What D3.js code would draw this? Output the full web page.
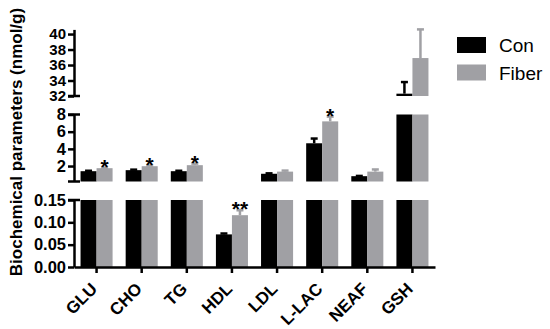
<!DOCTYPE html>
<html lang="en">
<head>
    <meta charset="UTF-8">
    <title>Biochemical parameters</title>
    <script src="https://d3js.org/d3.v7.min.js"></script>
    <style>
        body { margin: 0; background: #fff; }
        text { font-family: Arial, "Liberation Sans", sans-serif; }
    </style>
</head>
<body>
    <div id="chart"></div>
    <script>
        // data
        var categories = ["GLU", "CHO", "TG", "HDL", "LDL", "L-LAC", "NEAF", "GSH"];
        var groups = ["Con", "Fiber"];
        var conValues = [1.40, 1.52, 1.40, 0.073, 1.10, 4.65, 0.82, 32.3];
        var conErrors = [0.05, 0.06, 0.05, 0.002, 0.05, 0.55, 0.03, 1.5];
        var fiberValues = [1.75, 1.98, 2.10, 0.116, 1.35, 7.20, 1.35, 36.9];
        var fiberErrors = [0.06, 0.08, 0.18, 0.011, 0.12, 0.55, 0.25, 3.7];
        var stars = ["*", "*", "*", "**", "", "*", "", ""];

        // broken y axis: three segments, bottom to top
        var segments = [
            {domain: [0, 0.15], range: [267, 200], ticks: [0, 0.05, 0.10, 0.15], fmt: d3.format(".2f"), fs: 16.5},
            {domain: [0.2, 8], range: [181.5, 114.5], ticks: [2, 4, 6, 8], fmt: d3.format("d"), fs: 16.5},
            {domain: [32, 40.6], range: [96, 29.4], ticks: [32, 34, 36, 38, 40], fmt: d3.format("d"), fs: 15}
        ];
        var colors = {Con: "#000000", Fiber: "#a0a0a4"};

        var width = 550, height = 329, axisX = 74;

        var svg = d3.select("#chart")
            .append("svg")
            .attr("width", width)
            .attr("height", height);

        var x0 = d3.scaleBand()
            .domain(categories)
            .range([axisX, 435])
            .paddingInner(0.29)
            .paddingOuter(0.145);

        var x1 = d3.scaleBand()
            .domain(groups)
            .range([0, x0.bandwidth()]);

        var rows = categories.map(function(c, i) {
            return {cat: c, star: stars[i], bars: [
                {g: "Con", v: conValues[i], e: conErrors[i]},
                {g: "Fiber", v: fiberValues[i], e: fiberErrors[i]}
            ]};
        });

        segments.forEach(function(s) {
            s.y = d3.scaleLinear().domain(s.domain).range(s.range);
        });

        // bars, clipped per segment
        segments.forEach(function(s) {
            var lo = s.domain[0], hi = s.domain[1];
            rows.forEach(function(r) {
                r.bars.forEach(function(b) {
                    if (b.v <= lo) return;
                    var top = Math.min(b.v, hi);
                    svg.append("rect")
                        .attr("x", x0(r.cat) + x1(b.g))
                        .attr("width", x1.bandwidth())
                        .attr("y", s.y(top))
                        .attr("height", s.y(lo) - s.y(top))
                        .attr("fill", colors[b.g]);
                    if (b.v < hi) {
                        // error bar (upper only)
                        var cx = x0(r.cat) + x1(b.g) + x1.bandwidth() / 2;
                        var ye = s.y(Math.min(b.v + b.e, hi));
                        svg.append("line")
                            .attr("x1", cx).attr("x2", cx)
                            .attr("y1", s.y(b.v)).attr("y2", ye)
                            .attr("stroke", colors[b.g]).attr("stroke-width", 2.5);
                        svg.append("line")
                            .attr("x1", cx - 3.5).attr("x2", cx + 3.5)
                            .attr("y1", ye).attr("y2", ye)
                            .attr("stroke", colors[b.g]).attr("stroke-width", 2.5);
                    }
                });
                // significance marks above the Fiber bar
                var f = r.bars[1];
                if (r.star && f.v > lo && f.v < hi) {
                    svg.append("text")
                        .attr("x", x0(r.cat) + x1("Fiber") + x1.bandwidth() / 2)
                        .attr("y", s.y(f.v + f.e) + 6)
                        .attr("text-anchor", "middle")
                        .attr("font-size", "21px")
                        .attr("font-weight", "bold")
                        .text(r.star);
                }
            });

            // axis segment
            var ax = svg.append("g")
                .attr("transform", "translate(" + axisX + ",0)")
                .call(d3.axisLeft(s.y).tickValues(s.ticks).tickFormat(s.fmt)
                    .tickSize(6).tickSizeOuter(0).tickPadding(2));
            ax.select(".domain").attr("stroke", "#000").attr("stroke-width", 2.5);
            ax.selectAll(".tick line").attr("stroke", "#000").attr("stroke-width", 2.5);
            ax.selectAll(".tick text")
                .attr("font-family", "Arial, 'Liberation Sans', sans-serif")
                .attr("font-size", s.fs + "px")
                .attr("font-weight", "bold")
                .attr("fill", "#000");
        });

        // short marks at the breaks
        [segments[0].range[1], segments[1].range[0], segments[1].range[1], segments[2].range[0]]
            .forEach(function(yb) {
                svg.append("line")
                    .attr("x1", axisX - 6).attr("x2", axisX + 6)
                    .attr("y1", yb).attr("y2", yb)
                    .attr("stroke", "#000").attr("stroke-width", 2.5);
            });

        // x axis
        var xAxis = svg.append("g")
            .attr("transform", "translate(0," + segments[0].range[0] + ")")
            .call(d3.axisBottom(x0).tickSize(6).tickSizeOuter(0).tickFormat(""));
        xAxis.select(".domain").attr("stroke", "#000").attr("stroke-width", 2.5);
        xAxis.selectAll(".tick line").attr("stroke", "#000").attr("stroke-width", 2.5);

        svg.selectAll(".xlabel")
            .data(categories)
            .enter()
            .append("text")
            .attr("class", "xlabel")
            .attr("transform", function(d) {
                return "translate(" + (x0(d) + x0.bandwidth() / 2 + 1.5) + ",290) rotate(-45)";
            })
            .attr("text-anchor", "end")
            .attr("font-size", "17px")
            .attr("font-weight", "bold")
            .text(function(d) { return d; });

        // y title
        svg.append("text")
            .attr("transform", "translate(22,142) rotate(-90)")
            .attr("text-anchor", "middle")
            .attr("font-size", "17px")
            .attr("font-weight", "bold")
            .text("Biochemical parameters (nmol/g)");

        // legend
        var legend = svg.selectAll(".legend")
            .data(groups)
            .enter()
            .append("g")
            .attr("transform", function(d, i) { return "translate(457," + (37 + i * 27.5) + ")"; });
        legend.append("rect")
            .attr("width", 29)
            .attr("height", 16)
            .attr("fill", function(d) { return colors[d]; });
        legend.append("text")
            .attr("x", 42)
            .attr("y", 15)
            .attr("font-size", "19px")
            .text(function(d) { return d; });
    </script>
</body>
</html>
